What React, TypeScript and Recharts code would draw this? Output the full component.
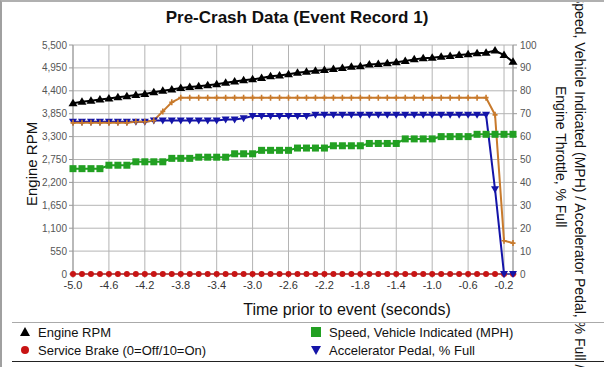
import React from "react";
import { LineChart, Line, XAxis, YAxis, CartesianGrid } from "recharts";

document.body.style.margin = "0";

// time axis (seconds before event), one sample every 0.1 s
const times = [
  -5.0, -4.9, -4.8, -4.7, -4.6, -4.5, -4.4, -4.3, -4.2, -4.1,
  -4.0, -3.9, -3.8, -3.7, -3.6, -3.5, -3.4, -3.3, -3.2, -3.1,
  -3.0, -2.9, -2.8, -2.7, -2.6, -2.5, -2.4, -2.3, -2.2, -2.1,
  -2.0, -1.9, -1.8, -1.7, -1.6, -1.5, -1.4, -1.3, -1.2, -1.1,
  -1.0, -0.9, -0.8, -0.7, -0.6, -0.5, -0.4, -0.3, -0.2, -0.1,
];

const engineRpm = [
  4100, 4135, 4160, 4190, 4215, 4245, 4270, 4300, 4325, 4365,
  4400, 4430, 4465, 4490, 4510, 4535, 4560, 4595, 4625, 4655,
  4675, 4705, 4750, 4770, 4800, 4835, 4860, 4880, 4900, 4925,
  4945, 4975, 4990, 5030, 5045, 5060, 5085, 5115, 5155, 5180,
  5195, 5220, 5235, 5260, 5275, 5300, 5315, 5365, 5260, 5095,
];

const serviceBrake = [
  0, 0, 0, 0, 0, 0, 0, 0, 0, 0,
  0, 0, 0, 0, 0, 0, 0, 0, 0, 0,
  0, 0, 0, 0, 0, 0, 0, 0, 0, 0,
  0, 0, 0, 0, 0, 0, 0, 0, 0, 0,
  0, 0, 0, 0, 0, 0, 0, 0, 0, 0,
];

const speedMph = [
  46, 46, 46, 46, 47.5, 47.5, 47.5, 49, 49, 49,
  49, 50.5, 50.5, 50.5, 51, 51, 51, 51, 52.5, 52.5,
  52.5, 54, 54, 54, 54, 55, 55, 55, 55, 56,
  56, 56, 56, 57, 57, 57, 57, 59, 59, 59,
  59, 60, 60, 60, 60, 61, 61, 61, 61, 61,
];

const accelPedal = [
  66.5, 66.5, 66.5, 66.5, 66.5, 66.5, 66.5, 66.5, 66.5, 67,
  67, 67, 67, 67, 67, 67, 67, 67.5, 67.5, 68,
  69, 69, 69, 69, 69, 69, 69, 69.5, 69.5, 69.5,
  69.5, 69.5, 69.5, 69.5, 69.5, 69.5, 69.5, 69.5, 69.5, 69.5,
  69.5, 69.5, 69.5, 69.5, 69.5, 69.5, 69.5, 37, 0, 0,
];

const engineThrottle = [
  66, 66, 66, 66, 66, 66, 66, 66.5, 66.5, 67,
  71, 75, 77, 77, 77, 77, 77, 77, 77, 77,
  77, 77, 77, 77, 77, 77, 77, 77, 77, 77,
  77, 77, 77, 77, 77, 77, 77, 77, 77, 77,
  77, 77, 77, 77, 77, 77, 77, 69.5, 14.5, 13.5,
];

const xTicks = [-5.0, -4.6, -4.2, -3.8, -3.4, -3.0, -2.6, -2.2, -1.8, -1.4, -1.0, -0.6, -0.2];
const rpmTicks = [0, 550, 1100, 1650, 2200, 2750, 3300, 3850, 4400, 4950, 5500];
const pctTicks = [0, 10, 20, 30, 40, 50, 60, 70, 80, 90, 100];

const data = times.map((t, i) => ({
  t,
  rpm: engineRpm[i],
  brake: serviceBrake[i],
  speed: speedMph[i],
  pedal: accelPedal[i],
  throttle: engineThrottle[i],
}));

const FONT = '"Liberation Sans", Arial, sans-serif';
const BLACK = "#000000";
const RED = "#c81414";
const GREEN = "#22a022";
const BLUE = "#1414a8";
const ORANGE = "#c87a2c";

function TriUp(props: any) {
  const { cx, cy, index } = props;
  return (
    <path
      key={`tu-${index}`}
      d={`M${cx},${cy - 4.5}L${cx + 4.5},${cy + 3}L${cx - 4.5},${cy + 3}Z`}
      fill={BLACK}
    />
  );
}

function TriDown(props: any) {
  const { cx, cy, index } = props;
  return (
    <path
      key={`td-${index}`}
      d={`M${cx},${cy + 4}L${cx + 4},${cy - 3}L${cx - 4},${cy - 3}Z`}
      fill={BLUE}
    />
  );
}

function Square(props: any) {
  const { cx, cy, index } = props;
  return <rect key={`sq-${index}`} x={cx - 3.5} y={cy - 3.5} width={7} height={7} fill={GREEN} />;
}

function Dot(props: any) {
  const { cx, cy, index } = props;
  return <circle key={`dt-${index}`} cx={cx} cy={cy} r={3} fill={RED} />;
}

function Plus(props: any) {
  const { cx, cy, index } = props;
  return (
    <path
      key={`pl-${index}`}
      d={`M${cx},${cy - 3}L${cx},${cy + 3}M${cx - 2.5},${cy}L${cx + 2.5},${cy}`}
      stroke={ORANGE}
      strokeWidth={1.6}
      fill="none"
    />
  );
}

function LegendItem({ marker, label }: { marker: React.ReactNode; label: string }) {
  return (
    <div style={{ display: "flex", alignItems: "center", height: 18 }}>
      <svg width={14} height={12} style={{ marginRight: 6 }}>
        {marker}
      </svg>
      <span>{label}</span>
    </div>
  );
}

const vertical: React.CSSProperties = {
  position: "absolute",
  width: 20,
  writingMode: "vertical-rl",
  textAlign: "center",
  whiteSpace: "nowrap",
  color: "#111",
};

export default function App() {
  return (
    <div
      style={{
        position: "relative",
        width: 604,
        height: 367,
        overflow: "hidden",
        background: "#fff",
        fontFamily: FONT,
        boxSizing: "border-box",
        borderLeft: "2px solid #a0a0a0",
        borderTop: "2px solid #b0b0b0",
      }}
    >
      <div style={{ position: "absolute", left: -2, top: -2 }}>
        <LineChart
          width={604}
          height={367}
          data={data}
          margin={{ top: 45, right: 0, bottom: 63, left: 0 }}
        >
          <CartesianGrid yAxisId="l" stroke="#b4b4b4" strokeWidth={1} />
          <XAxis
            dataKey="t"
            type="number"
            domain={[-5.0, -0.1]}
            ticks={xTicks}
            interval={0}
            height={30}
            tickSize={4}
            tickMargin={3}
            tickFormatter={(v: number) => v.toFixed(1)}
            tick={{ fontSize: 11, fill: "#333", fontFamily: FONT }}
            axisLine={{ stroke: "#999" }}
            tickLine={{ stroke: "#999" }}
          />
          <YAxis
            yAxisId="l"
            width={73}
            domain={[0, 5500]}
            ticks={rpmTicks}
            interval={0}
            tickSize={4}
            tickMargin={2}
            tickFormatter={(v: number) => v.toLocaleString("en-US")}
            tick={{ fontSize: 10, fill: "#555", fontFamily: FONT }}
            axisLine={{ stroke: "#999" }}
            tickLine={{ stroke: "#999" }}
          />
          <YAxis
            yAxisId="r"
            orientation="right"
            width={91}
            domain={[0, 100]}
            ticks={pctTicks}
            interval={0}
            tickSize={4}
            tickMargin={3}
            tick={{ fontSize: 10, fill: "#555", fontFamily: FONT }}
            axisLine={{ stroke: "#999" }}
            tickLine={{ stroke: "#999" }}
          />
          <Line yAxisId="r" dataKey="brake" stroke={RED} strokeWidth={2} dot={Dot} isAnimationActive={false} />
          <Line yAxisId="r" dataKey="speed" stroke={GREEN} strokeWidth={2} dot={Square} isAnimationActive={false} />
          <Line yAxisId="r" dataKey="pedal" stroke={BLUE} strokeWidth={2} dot={TriDown} isAnimationActive={false} />
          <Line yAxisId="r" dataKey="throttle" stroke={ORANGE} strokeWidth={2} dot={Plus} isAnimationActive={false} />
          <Line yAxisId="l" dataKey="rpm" stroke={BLACK} strokeWidth={2} dot={TriUp} isAnimationActive={false} />
        </LineChart>
      </div>

      {/* title */}
      <div
        style={{
          position: "absolute",
          left: 0,
          width: 590,
          top: 6,
          textAlign: "center",
          fontSize: 17,
          fontWeight: "bold",
          color: "#111",
        }}
      >
        Pre-Crash Data (Event Record 1)
      </div>

      {/* left axis title */}
      <div
        style={{
          ...vertical,
          left: 21,
          top: 62,
          height: 200,
          transform: "rotate(180deg)",
          fontSize: 15,
        }}
      >
        Engine RPM
      </div>

      {/* right axis title, two lines as in the source */}
      <div style={{ ...vertical, left: 566, top: -71, height: 500, fontSize: 14 }}>
        Speed, Vehicle Indicated (MPH) / Accelerator Pedal, % Full /
      </div>
      <div style={{ ...vertical, left: 547, top: 55, height: 200, fontSize: 14 }}>
        Engine Throttle, % Full
      </div>

      {/* x axis title */}
      <div
        style={{
          position: "absolute",
          left: 200,
          width: 290,
          top: 299,
          textAlign: "center",
          fontSize: 16,
          color: "#111",
        }}
      >
        Time prior to event (seconds)
      </div>

      {/* legend box */}
      <div
        style={{
          position: "absolute",
          left: 10,
          width: 600,
          top: 320,
          height: 38,
          borderTop: "1px solid #aaa",
          borderBottom: "1px solid #222",
          fontSize: 13,
          color: "#111",
        }}
      >
        <div style={{ position: "absolute", left: 6, top: 0 }}>
          <LegendItem marker={<path d="M7,1L12,10L2,10Z" fill={BLACK} />} label="Engine RPM" />
          <LegendItem marker={<circle cx={7} cy={6} r={4} fill={RED} />} label="Service Brake (0=Off/10=On)" />
        </div>
        <div style={{ position: "absolute", left: 297, top: 0 }}>
          <LegendItem marker={<rect x={2} y={1} width={10} height={10} fill={GREEN} />} label="Speed, Vehicle Indicated (MPH)" />
          <LegendItem marker={<path d="M7,11L12,2L2,2Z" fill={BLUE} />} label="Accelerator Pedal, % Full" />
        </div>
      </div>
    </div>
  );
}
